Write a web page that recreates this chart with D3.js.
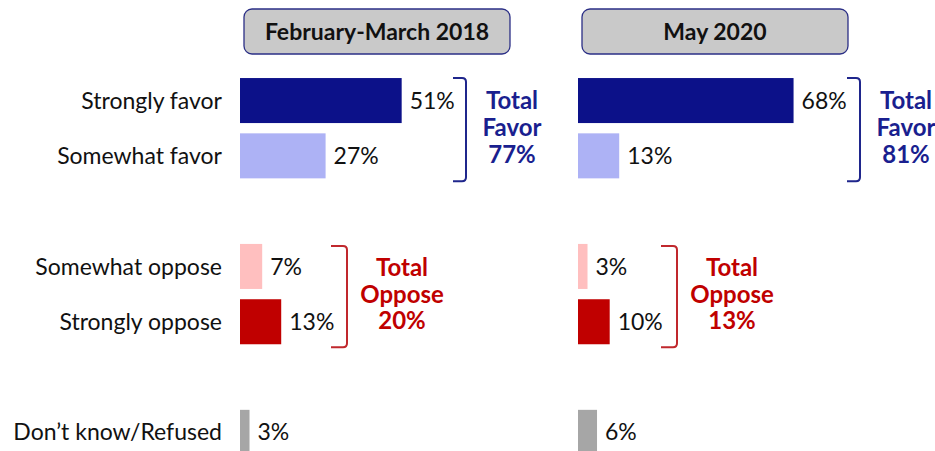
<!DOCTYPE html>
<html>
<head>
<meta charset="utf-8">
<script src="https://cdn.jsdelivr.net/npm/d3@7"></script>
<style>
  body { margin: 0; background: #fff; }
  svg { display: block; font-family: Lato, "Open Sans", sans-serif; }
</style>
</head>
<body>
<div id="chart"></div>
<script>
// Survey data
var categories = ["Strongly favor", "Somewhat favor", "Somewhat oppose", "Strongly oppose", "Don\u2019t know/Refused"];
var periods = ["February-March 2018", "May 2020"];
var values2018 = [51, 27, 7, 13, 3];
var values2020 = [68, 13, 3, 10, 6];
var totalFavor = [77, 81];
var totalOppose = [20, 13];

var colors = ["#0c1189", "#adb2f5", "#ffbfbf", "#c00000", "#a6a6a6"];

var width = 935, height = 451;

var svg = d3.select("#chart")
  .append("svg")
    .attr("width", width)
    .attr("height", height);

// rows, with empty slots between groups
var slots = ["Strongly favor", "Somewhat favor", "gap1", "Somewhat oppose", "Strongly oppose", "gap2", "Don\u2019t know/Refused"];
var y = d3.scaleBand()
    .domain(slots)
    .range([72.9, 72.9 + 7 * 55.3])
    .paddingInner(0.186)
    .paddingOuter(0.093);

var x = d3.scaleLinear()
    .domain([0, 100])
    .range([0, 317]);

var panelX = [240, 578];
var panelData = [values2018, values2020];

// category labels
svg.append("g")
  .selectAll("text")
  .data(categories)
  .enter()
  .append("text")
    .attr("x", 222)
    .attr("y", function(d) { return y(d) + y.bandwidth() / 2; })
    .attr("dy", "0.35em")
    .attr("text-anchor", "end")
    .style("font-size", "23px")
    .style("fill", "#111")
    .text(function(d) { return d; });

// bracket path: ticks to the left, vertical on the right
function bracket(x0, x1, y0, y1) {
  var r = 4;
  return "M" + x0 + "," + y0 + "H" + (x1 - r) + "Q" + x1 + "," + y0 + " " + x1 + "," + (y0 + r) +
         "V" + (y1 - r) + "Q" + x1 + "," + y1 + " " + (x1 - r) + "," + y1 + "H" + x0;
}

periods.forEach(function(p, i) {
  var g = svg.append("g").attr("transform", "translate(" + panelX[i] + ",0)");
  var vals = panelData[i];

  // header box
  g.append("rect")
    .attr("x", 4)
    .attr("y", 9)
    .attr("width", 266)
    .attr("height", 45)
    .attr("rx", 8)
    .style("fill", "#c9c9c9")
    .style("stroke", "#2b2f86")
    .style("stroke-width", 1.3);
  g.append("text")
    .attr("x", 137)
    .attr("y", 31.5)
    .attr("dy", "0.35em")
    .attr("text-anchor", "middle")
    .style("font-size", "23px")
    .style("font-weight", "bold")
    .style("fill", "#111")
    .text(p);

  // bars
  g.append("g")
    .selectAll("rect")
    .data(vals)
    .enter()
    .append("rect")
      .attr("x", 0)
      .attr("y", function(d, j) { return y(categories[j]); })
      .attr("width", function(d) { return x(d); })
      .attr("height", y.bandwidth())
      .style("fill", function(d, j) { return colors[j]; });

  // value labels
  g.append("g")
    .selectAll("text")
    .data(vals)
    .enter()
    .append("text")
      .attr("x", function(d) { return x(d) + 8; })
      .attr("y", function(d, j) { return y(categories[j]) + y.bandwidth() / 2; })
      .attr("dy", "0.35em")
      .style("font-size", "23px")
      .style("fill", "#111")
      .text(function(d) { return d + "%"; });

  // favor bracket
  var fTop = y(categories[0]), fBot = y(categories[1]) + y.bandwidth() + 3;
  var fxr = i === 0 ? 226 : 282;
  g.append("path")
    .attr("d", bracket(fxr - 13, fxr, fTop, fBot))
    .style("fill", "none")
    .style("stroke", "#1f268c")
    .style("stroke-width", 2);
  var favLines = ["Total", "Favor", totalFavor[i] + "%"];
  g.append("g")
    .selectAll("text")
    .data(favLines)
    .enter()
    .append("text")
      .attr("x", fxr + 46)
      .attr("y", function(d, k) { return 101 + k * 27; })
      .attr("dy", "0.35em")
      .attr("text-anchor", "middle")
      .style("font-size", "24px")
      .style("font-weight", "bold")
      .style("fill", "#1a1f8f")
      .text(function(d) { return d; });

  // oppose bracket
  var oTop = y(categories[2]) + 2, oBot = y(categories[3]) + y.bandwidth() + 3;
  var oxr = i === 0 ? 107 : 99;
  g.append("path")
    .attr("d", bracket(oxr - 16, oxr, oTop, oBot))
    .style("fill", "none")
    .style("stroke", "#c0282d")
    .style("stroke-width", 2);
  var oppLines = ["Total", "Oppose", totalOppose[i] + "%"];
  g.append("g")
    .selectAll("text")
    .data(oppLines)
    .enter()
    .append("text")
      .attr("x", oxr + 55)
      .attr("y", function(d, k) { return 268 + k * 26.5; })
      .attr("dy", "0.35em")
      .attr("text-anchor", "middle")
      .style("font-size", "24px")
      .style("font-weight", "bold")
      .style("fill", "#c00000")
      .text(function(d) { return d; });
});
</script>
</body>
</html>
